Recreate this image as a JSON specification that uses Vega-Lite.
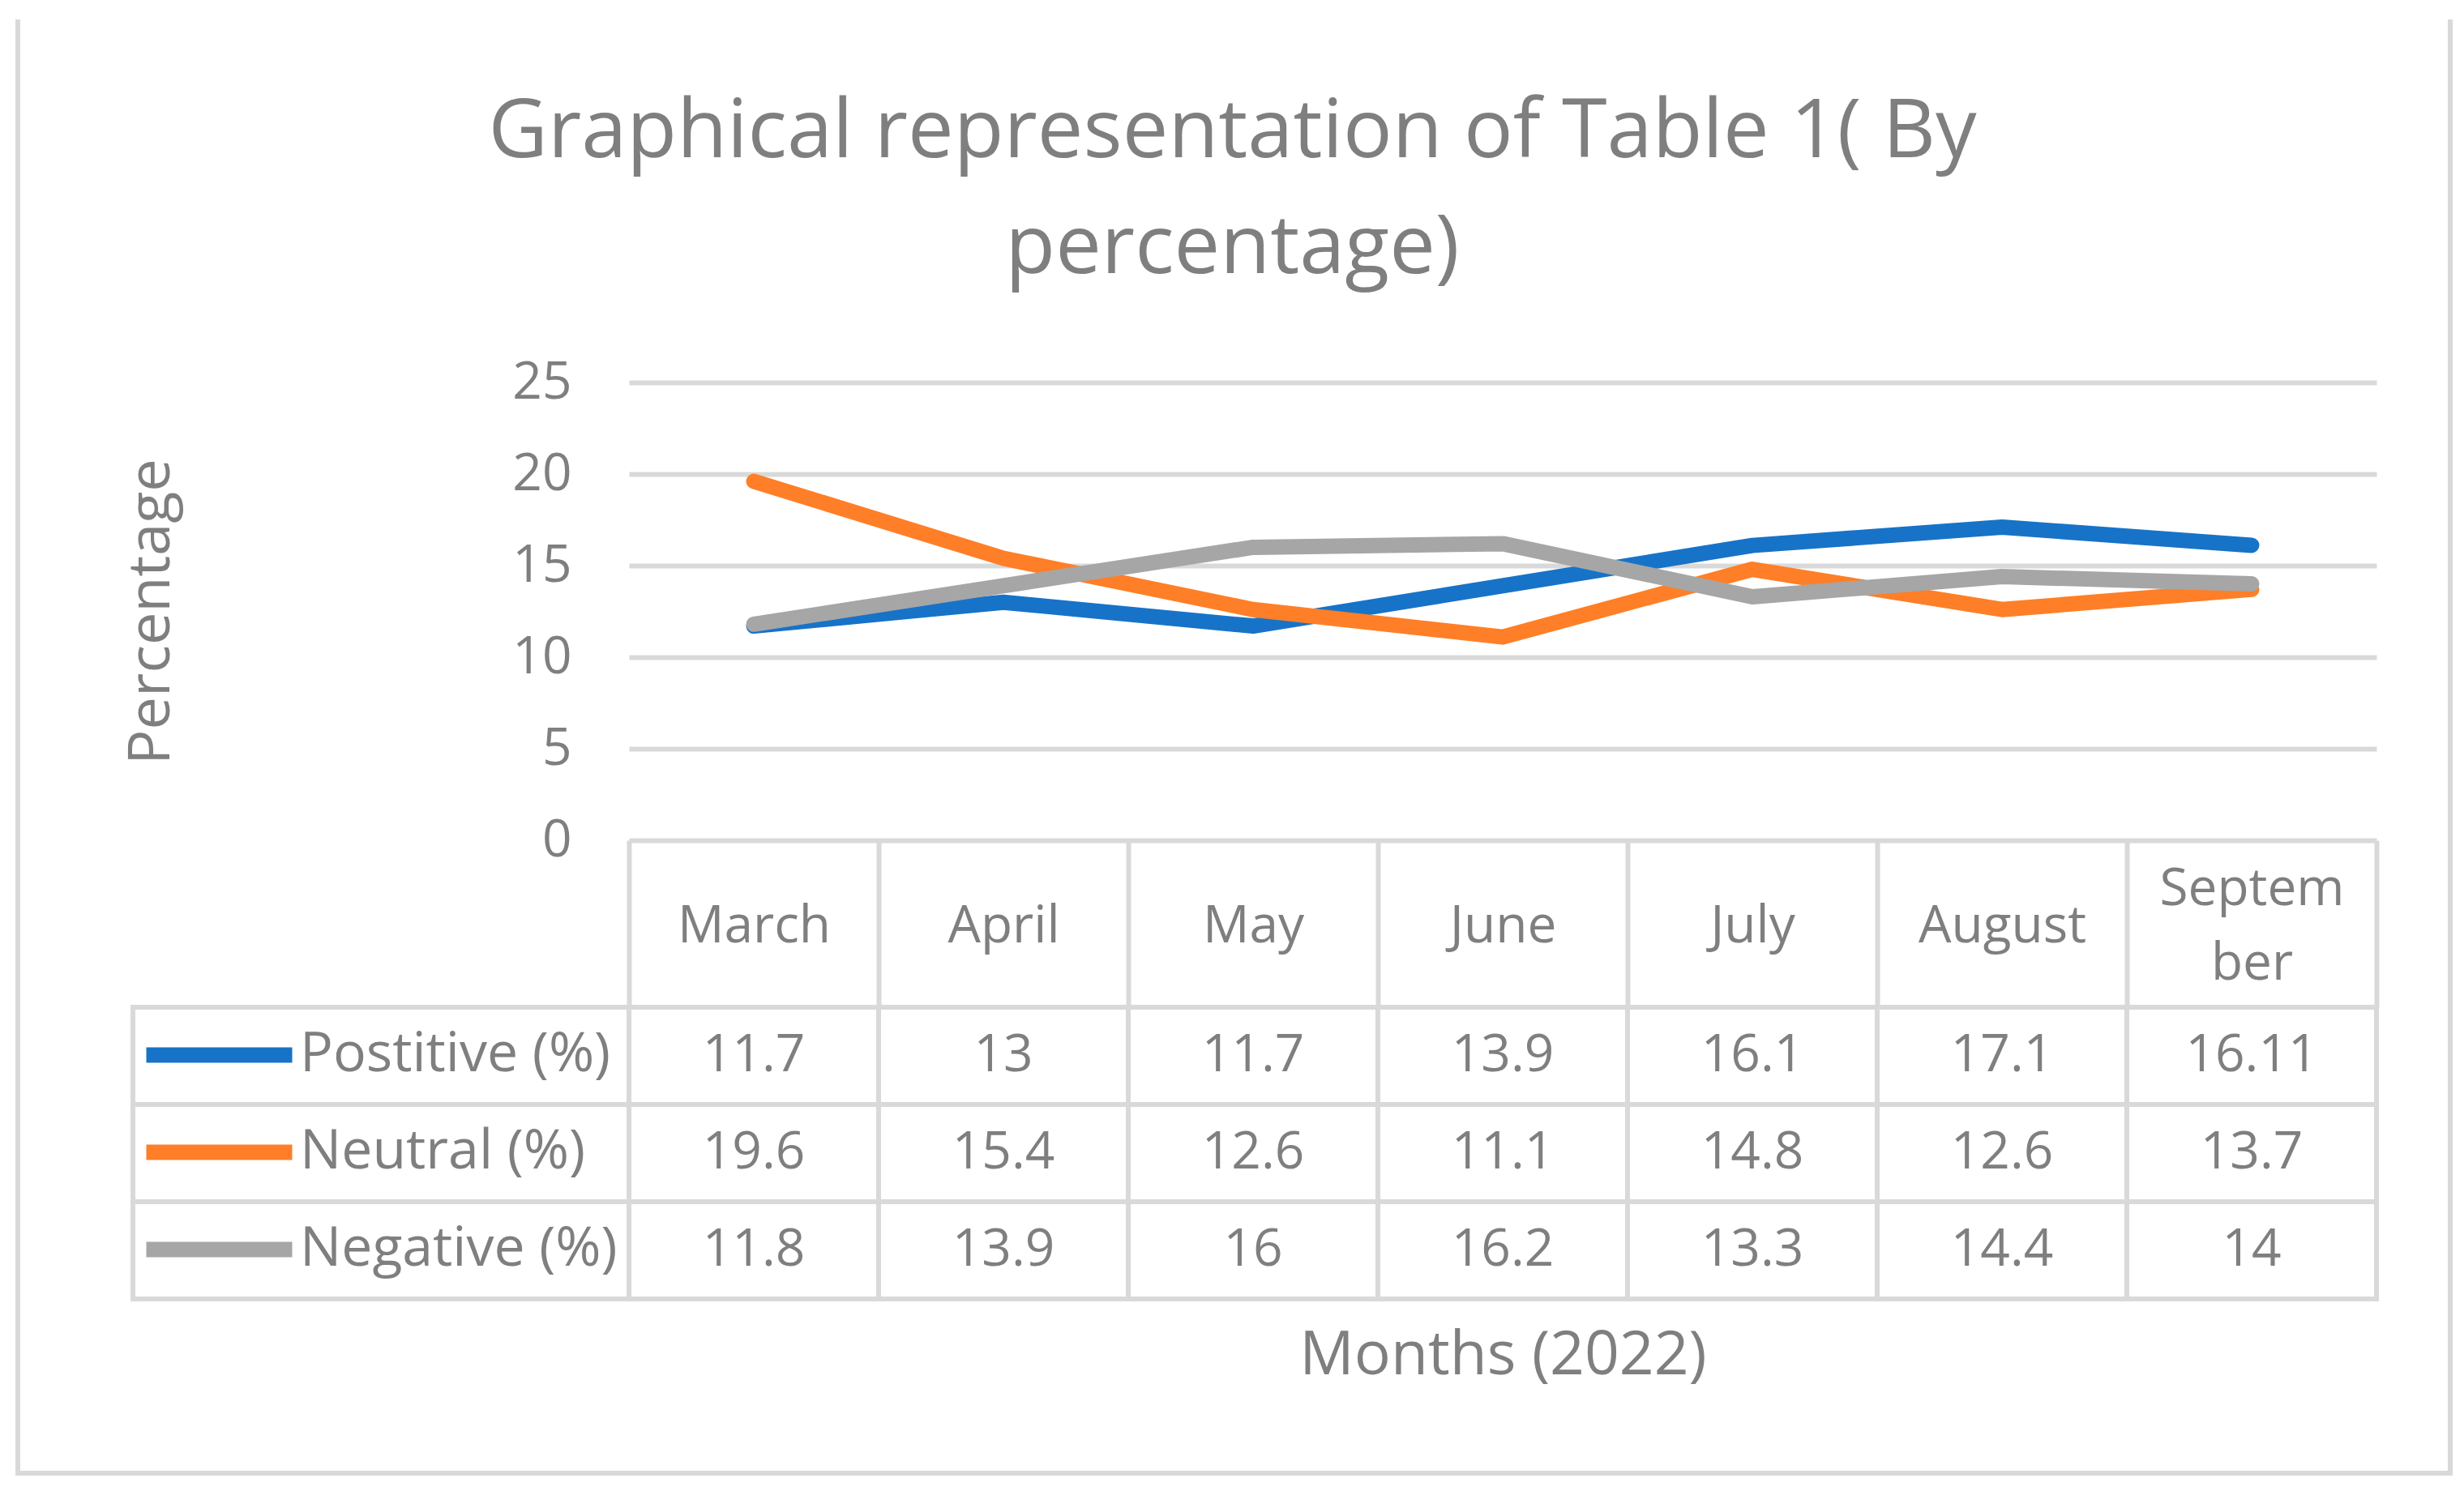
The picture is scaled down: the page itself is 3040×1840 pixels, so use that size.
{
  "$schema": "https://vega.github.io/schema/vega-lite/v6.json",
  "background": "white",
  "padding": {"left": 19, "top": 21, "right": 0, "bottom": 0},
  "config": {
    "font": "Open Sans",
    "view": {"stroke": null},
    "axis": {"labelColor": "#7f7f7f", "titleColor": "#7f7f7f", "titleFontWeight": "normal"},
    "title": {"color": "#7f7f7f", "fontWeight": "normal"}
  },
  "datasets": {
    "table": [
      {"month": "March", "series": "Postitive (%)", "value": 11.7},
      {"month": "April", "series": "Postitive (%)", "value": 13},
      {"month": "May", "series": "Postitive (%)", "value": 11.7},
      {"month": "June", "series": "Postitive (%)", "value": 13.9},
      {"month": "July", "series": "Postitive (%)", "value": 16.1},
      {"month": "August", "series": "Postitive (%)", "value": 17.1},
      {"month": "September", "series": "Postitive (%)", "value": 16.11},
      {"month": "March", "series": "Neutral (%)", "value": 19.6},
      {"month": "April", "series": "Neutral (%)", "value": 15.4},
      {"month": "May", "series": "Neutral (%)", "value": 12.6},
      {"month": "June", "series": "Neutral (%)", "value": 11.1},
      {"month": "July", "series": "Neutral (%)", "value": 14.8},
      {"month": "August", "series": "Neutral (%)", "value": 12.6},
      {"month": "September", "series": "Neutral (%)", "value": 13.7},
      {"month": "March", "series": "Negative (%)", "value": 11.8},
      {"month": "April", "series": "Negative (%)", "value": 13.9},
      {"month": "May", "series": "Negative (%)", "value": 16},
      {"month": "June", "series": "Negative (%)", "value": 16.2},
      {"month": "July", "series": "Negative (%)", "value": 13.3},
      {"month": "August", "series": "Negative (%)", "value": 14.4},
      {"month": "September", "series": "Negative (%)", "value": 14}
    ]
  },
  "align": "none",
  "spacing": -1708,
  "vconcat": [
    {
      "width": 3001,
      "height": 1794,
      "data": {"values": []},
      "mark": "point",
      "view": {"stroke": "#d9d9d9", "strokeWidth": 6, "strokeDash": [0, 3001, 6589, 0], "fill": null}
    },
    {
      "title": {
        "text": ["Graphical representation of Table 1( By", "percentage)"],
        "fontSize": 101,
        "lineHeight": 143,
        "anchor": "middle",
        "offset": 82,
        "dx": 42,
        "color": "#7f7f7f",
        "fontWeight": "normal"
      },
      "columns": 3,
      "align": "each",
      "bounds": "flush",
      "spacing": {"row": 206, "column": 0},
      "resolve": {"scale": {"x": "independent", "y": "independent", "color": "independent"}},
      "concat": [
        {"width": 142, "height": 565, "data": {"values": []}, "mark": "point"},
        {"width": 612, "height": 565, "data": {"values": []}, "mark": "point"},
        {
          "width": 2156,
          "height": 565,
          "data": {"name": "table"},
          "mark": {"type": "line", "strokeWidth": 19, "strokeCap": "round", "strokeJoin": "round"},
          "encoding": {
            "x": {
              "field": "month", "type": "nominal",
              "sort": ["March", "April", "May", "June", "July", "August", "September"],
              "scale": {"type": "band", "paddingInner": 0, "paddingOuter": 0},
              "axis": {
                "title": null, "orient": "bottom", "domain": false, "grid": false,
                "ticks": true, "tickBand": "extent", "tickSize": 206, "tickColor": "#d9d9d9", "tickWidth": 6,
                "labelFontSize": 64, "labelAngle": 0,
                "labelBaseline": {"condition": {"test": "datum.value == 'September'", "value": "line-bottom"}, "value": "middle"},
                "labelPadding": -100,
                "labelLineHeight": 92, "labelOverlap": false, "labelFlush": false, "labelLimit": 1000,
                "labelExpr": "datum.value == 'September' ? ['Septem', 'ber'] : datum.value"
              }
            },
            "y": {
              "field": "value", "type": "quantitative",
              "scale": {"domain": [0, 25], "nice": false},
              "axis": {
                "values": [0, 5, 10, 15, 20, 25], "title": "Percentage", "titleFontSize": 72, "titlePadding": 408,
                "labelFontSize": 64, "labelPadding": 71, "domain": false, "ticks": false,
                "grid": true, "gridColor": "#d9d9d9", "gridWidth": 6
              }
            },
            "color": {
              "field": "series", "type": "nominal",
              "scale": {"domain": ["Postitive (%)", "Neutral (%)", "Negative (%)"], "range": ["#1773c8", "#fe7f27", "#a6a6a6"]},
              "legend": {
                "orient": "none", "legendX": -605, "legendY": 770, "title": null, "padding": 0,
                "direction": "vertical", "symbolType": "stroke", "symbolSize": 32400, "symbolStrokeWidth": 19,
                "labelFontSize": 68, "labelColor": "#7f7f7f", "labelOffset": 0, "labelLimit": 1000,
                "clipHeight": 120, "rowPadding": 0
              }
            },
            "order": {"value": null}
          }
        },
        {"width": 142, "height": 360, "data": {"values": []}, "mark": "point"},
        {
          "width": 612,
          "height": 360,
          "data": {"name": "table"},
          "transform": [{"aggregate": [{"op": "count", "as": "n"}], "groupby": ["series"]}],
          "mark": {"type": "rect", "fill": "transparent", "stroke": "#d9d9d9", "strokeWidth": 6},
          "encoding": {
            "y": {
              "field": "series", "type": "nominal",
              "sort": ["Postitive (%)", "Neutral (%)", "Negative (%)"],
              "scale": {"paddingInner": 0, "paddingOuter": 0},
              "axis": null
            }
          }
        },
        {
          "width": 2156,
          "height": 360,
          "data": {"name": "table"},
          "encoding": {
            "x": {
              "field": "month", "type": "nominal",
              "sort": ["March", "April", "May", "June", "July", "August", "September"],
              "scale": {"type": "band", "paddingInner": 0, "paddingOuter": 0},
              "axis": {"title": "Months (2022)", "titleFontSize": 75, "titlePadding": 33, "labels": false, "ticks": false, "domain": false, "grid": false}
            },
            "y": {
              "field": "series", "type": "nominal",
              "sort": ["Postitive (%)", "Neutral (%)", "Negative (%)"],
              "scale": {"paddingInner": 0, "paddingOuter": 0},
              "axis": null
            }
          },
          "layer": [
            {"mark": {"type": "rect", "fill": "transparent", "stroke": "#d9d9d9", "strokeWidth": 6}},
            {
              "mark": {"type": "text", "fontSize": 64, "color": "#7f7f7f", "baseline": "middle"},
              "encoding": {"text": {"field": "value", "type": "nominal"}}
            }
          ]
        }
      ]
    }
  ]
}
